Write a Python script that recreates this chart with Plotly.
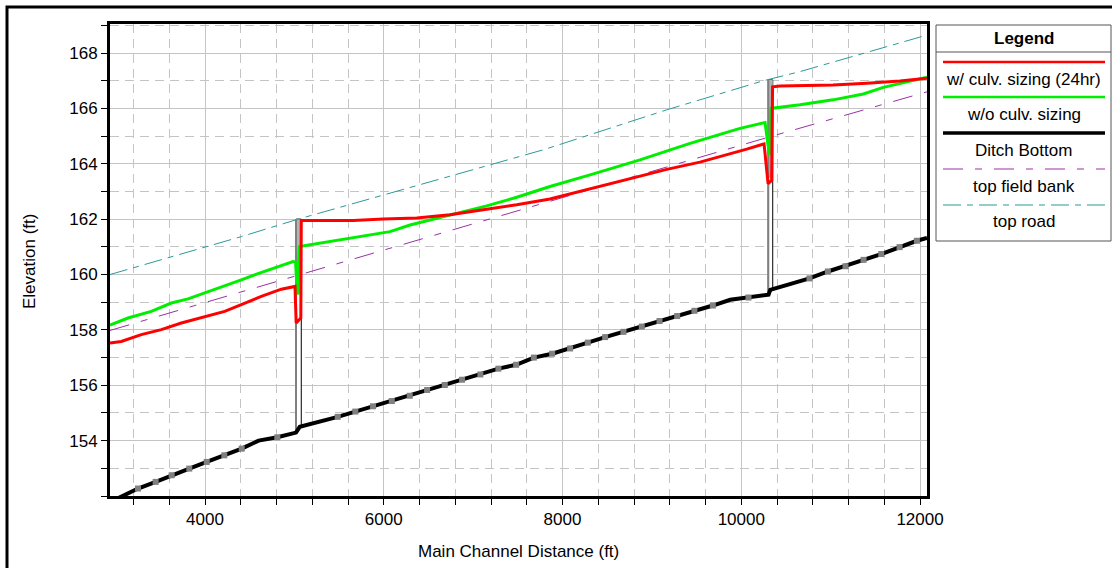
import plotly.graph_objects as go

# ---------------- profile data (main channel station ft, elevation ft) ----------------
WS_CULV_STA = [2937, 3063, 3287, 3511, 3735, 3997, 4220, 4406, 4630, 4854, 5007,
               5020, 5072, 5077, 5659, 5995, 6369, 6741, 7114, 7488, 7860, 8121,
               8680, 8867, 9166, 9538, 9837, 10061, 10255, 10300, 10340, 10350,
               10434, 11027, 11404, 11776, 12078]
WS_CULV_ELEV = [157.53, 157.58, 157.83, 158.01, 158.25, 158.49, 158.67, 158.91, 159.21,
                159.47, 159.57, 158.25, 158.43, 161.95, 161.95, 162.01, 162.04, 162.16,
                162.34, 162.52, 162.73, 162.94, 163.40, 163.56, 163.80, 164.06, 164.32,
                164.53, 164.72, 163.28, 163.40, 166.78, 166.81, 166.85, 166.91, 166.99,
                167.09]

WS_NOCULV_STA = [2937, 3138, 3399, 3623, 3810, 4034, 4220, 4406, 4593, 4780, 4985,
                 5013, 5033, 5055, 5659, 6070, 6294, 6778, 7152, 7488, 7860, 8308,
                 8867, 9427, 9986, 10266, 10314, 10330, 10657, 11027, 11366, 11589,
                 12078]
WS_NOCULV_ELEV = [158.17, 158.43, 158.67, 158.97, 159.12, 159.39, 159.59, 159.81,
                  160.03, 160.23, 160.47, 160.45, 159.27, 161.01, 161.32, 161.55,
                  161.79, 162.19, 162.48, 162.79, 163.18, 163.60, 164.14, 164.74,
                  165.28, 165.49, 164.32, 166.00, 166.13, 166.31, 166.52, 166.76,
                  167.13]

DITCH_STA = [2937, 3250, 3448, 3627, 3824, 4019, 4216, 4411, 4600, 4809, 5018, 5060,
             5485, 5682, 5880, 6090, 6291, 6485, 6683, 6876, 7081, 7283, 7481, 7679,
             7884, 8085, 8283, 8477, 8682, 8887, 9085, 9283, 9476, 9682, 9876, 10081,
             10305, 10324, 10763, 10969, 11166, 11368, 11566, 11771, 11965, 12078]
DITCH_ELEV = [151.78, 152.27, 152.51, 152.75, 152.99, 153.23, 153.47, 153.71, 154.00,
              154.12, 154.29, 154.50, 154.86, 155.05, 155.24, 155.43, 155.62, 155.83,
              156.01, 156.20, 156.39, 156.60, 156.74, 157.00, 157.14, 157.33, 157.54,
              157.74, 157.93, 158.12, 158.32, 158.50, 158.69, 158.88, 159.09, 159.17,
              159.27, 159.45, 159.86, 160.11, 160.30, 160.53, 160.74, 160.99, 161.22,
              161.32]
# cross sections shown with a point symbol on the ditch bottom
DITCH_XS = [False, True, True, True, True, True, True, True, False, True, False, False,
            True, True, True, True, True, True, True, True, True, True, True, True,
            True, True, True, True, True, True, True, True, True, True, False, True,
            False, False, True, True, True, True, True, True, True, False]

BANK_STA = [2937, 5287, 7749, 10312, 12078]
BANK_ELEV = [157.98, 160.21, 162.55, 164.97, 166.60]

ROAD_STA = [2937, 4406, 5041, 7800, 9166, 10247, 10657, 12078]
ROAD_ELEV = [160.00, 161.37, 162.00, 164.52, 165.95, 167.00, 167.33, 168.65]

# culvert crossings: left/right stations, inverts, top of pipe, road crest
CULV_LEFT = [5018, 10302]
CULV_RIGHT = [5077, 10352]
CULV_INV_LEFT = [154.29, 159.27]
CULV_INV_RIGHT = [154.50, 159.45]
CULV_SOFFIT = [159.30, 163.50]
CULV_ROAD = [162.00, 167.03]

X_TICKS = [4000, 6000, 8000, 10000, 12000]
Y_TICKS = [154, 156, 158, 160, 162, 164, 166, 168]

SERIES_NAMES = ["w/ culv. sizing (24hr)", "w/o culv. sizing", "Ditch Bottom",
                "top field bank", "top road"]

# ---------------- page geometry ----------------
W, H = 1112, 568
ML, MR, MT, MB = 110, 185, 24, 72
PW, PH = W - ML - MR, H - MT - MB
FONT = "Liberation Sans, Arial, sans-serif"
FS = 17


def px(xp):
    return (xp - ML) / PW


def py(yp):
    return (H - MB - yp) / PH


RED, GREEN, BLACK = "#ff0000", "#00ee00", "#000000"
PURPLE, TEAL = "#9b30a8", "#2a9a9a"
BANK_DASH = "20px,12px,7px,12px"
ROAD_DASH = "18px,6px,6px,6px"

fig = go.Figure()

# culvert boxes
for i in range(len(CULV_LEFT)):
    l, r = CULV_LEFT[i], CULV_RIGHT[i]
    fig.add_trace(go.Scatter(
        x=[l, r, r, l, l],
        y=[CULV_INV_LEFT[i], CULV_INV_RIGHT[i], CULV_ROAD[i], CULV_ROAD[i], CULV_INV_LEFT[i]],
        mode="lines", fill="toself", fillcolor="white",
        line=dict(color="black", width=1), showlegend=False, hoverinfo="skip"))
    fig.add_trace(go.Scatter(
        x=[l, r, r, l, l],
        y=[CULV_SOFFIT[i], CULV_SOFFIT[i], CULV_ROAD[i], CULV_ROAD[i], CULV_SOFFIT[i]],
        mode="lines", fill="toself", fillcolor="#b4b4b4",
        line=dict(color="rgba(0,0,0,0)", width=0), showlegend=False, hoverinfo="skip"))
    fig.add_trace(go.Scatter(
        x=[l, l], y=[CULV_INV_LEFT[i], CULV_ROAD[i]], mode="lines",
        line=dict(color="#808080", width=2), showlegend=False, hoverinfo="skip"))

fig.add_trace(go.Scatter(x=ROAD_STA, y=ROAD_ELEV, mode="lines", name=SERIES_NAMES[4],
                         line=dict(color=TEAL, width=1, dash=ROAD_DASH)))
fig.add_trace(go.Scatter(x=BANK_STA, y=BANK_ELEV, mode="lines", name=SERIES_NAMES[3],
                         line=dict(color=PURPLE, width=1, dash=BANK_DASH)))
fig.add_trace(go.Scatter(x=DITCH_STA, y=DITCH_ELEV, mode="lines", name=SERIES_NAMES[2],
                         line=dict(color=BLACK, width=4)))
fig.add_trace(go.Scatter(
    x=[s for s, m in zip(DITCH_STA, DITCH_XS) if m],
    y=[e for e, m in zip(DITCH_ELEV, DITCH_XS) if m],
    mode="markers", marker=dict(symbol="square", size=6, color="#808080"),
    showlegend=False, hoverinfo="skip"))
fig.add_trace(go.Scatter(x=WS_NOCULV_STA, y=WS_NOCULV_ELEV, mode="lines",
                         name=SERIES_NAMES[1], line=dict(color=GREEN, width=3)))
fig.add_trace(go.Scatter(x=WS_CULV_STA, y=WS_CULV_ELEV, mode="lines",
                         name=SERIES_NAMES[0], line=dict(color=RED, width=3)))

# ---------------- boxed legend on the right ----------------
shapes = []
annotations = []
LX0, LX1, LY0, LY1 = 936, 1111, 25, 241
shapes.append(dict(type="rect", xref="paper", yref="paper",
                   x0=px(LX0), x1=px(LX1), y0=py(LY1), y1=py(LY0),
                   line=dict(color="#555555", width=1), fillcolor="white", layer="above"))
shapes.append(dict(type="line", xref="paper", yref="paper",
                   x0=px(LX0), x1=px(LX1), y0=py(52), y1=py(52),
                   line=dict(color="#555555", width=1)))
annotations.append(dict(text="<b>Legend</b>", xref="paper", yref="paper",
                        x=px((LX0 + LX1) / 2), y=py(38), showarrow=False,
                        font=dict(family=FONT, size=FS, color="black"),
                        xanchor="center", yanchor="middle"))
entry_styles = [
    (RED, 2.5, "solid"), (GREEN, 2.5, "solid"), (BLACK, 3.5, "solid"),
    (PURPLE, 1.2, BANK_DASH), (TEAL, 1.2, ROAD_DASH)]
sample_y = [62, 97, 133, 169, 205]
label_y = [79, 114, 151, 186, 221]
for name, (col, w, d), sy, ly in zip(SERIES_NAMES, entry_styles, sample_y, label_y):
    shapes.append(dict(type="line", xref="paper", yref="paper",
                       x0=px(943), x1=px(1105), y0=py(sy), y1=py(sy),
                       line=dict(color=col, width=w, dash=d)))
    annotations.append(dict(text=name, xref="paper", yref="paper",
                            x=px((LX0 + LX1) / 2), y=py(ly), showarrow=False,
                            font=dict(family=FONT, size=FS, color="black"),
                            xanchor="center", yanchor="middle"))

# outer frame
shapes.append(dict(type="rect", xref="paper", yref="paper",
                   x0=px(7), x1=px(W + 10), y0=py(H + 10), y1=py(7),
                   line=dict(color="black", width=3)))

# axis titles
annotations.append(dict(text="Main Channel Distance (ft)", xref="paper", yref="paper",
                        x=px(518), y=py(551), showarrow=False,
                        font=dict(family=FONT, size=FS, color="black"),
                        xanchor="center", yanchor="middle"))
annotations.append(dict(text="Elevation (ft)", xref="paper", yref="paper",
                        x=px(29), y=py(262), showarrow=False, textangle=-90,
                        font=dict(family=FONT, size=FS, color="black"),
                        xanchor="center", yanchor="middle"))

GRID = "#c4c4c4"
fig.update_layout(
    width=W, height=H,
    margin=dict(l=ML, r=MR, t=MT, b=MB),
    paper_bgcolor="white", plot_bgcolor="white",
    showlegend=False,
    font=dict(family=FONT, size=FS, color="black"),
    shapes=shapes, annotations=annotations,
    xaxis=dict(range=[2937, 12078], tickvals=X_TICKS,
               ticktext=[str(v) for v in X_TICKS], ticks="outside", ticklen=6,
               tickcolor="black", showgrid=True, gridcolor=GRID, gridwidth=1,
               showline=True, linecolor="black", linewidth=3, mirror=True,
               zeroline=False, tickfont=dict(family=FONT, size=FS),
               minor=dict(dtick=400, tick0=0, ticks="outside", ticklen=6,
                          tickcolor="black", showgrid=True, gridcolor=GRID,
                          griddash="9px,6px")),
    yaxis=dict(range=[152.0, 169.05], tickvals=Y_TICKS,
               ticktext=[str(v) for v in Y_TICKS], ticks="outside", ticklen=6,
               tickcolor="black", showgrid=True, gridcolor=GRID, gridwidth=1,
               showline=True, linecolor="black", linewidth=3, mirror=True,
               zeroline=False, tickfont=dict(family=FONT, size=FS),
               minor=dict(dtick=1, tick0=0, ticks="outside", ticklen=6,
                          tickcolor="black", showgrid=True, gridcolor=GRID,
                          griddash="9px,6px")),
)

fig.write_html("out.html")
